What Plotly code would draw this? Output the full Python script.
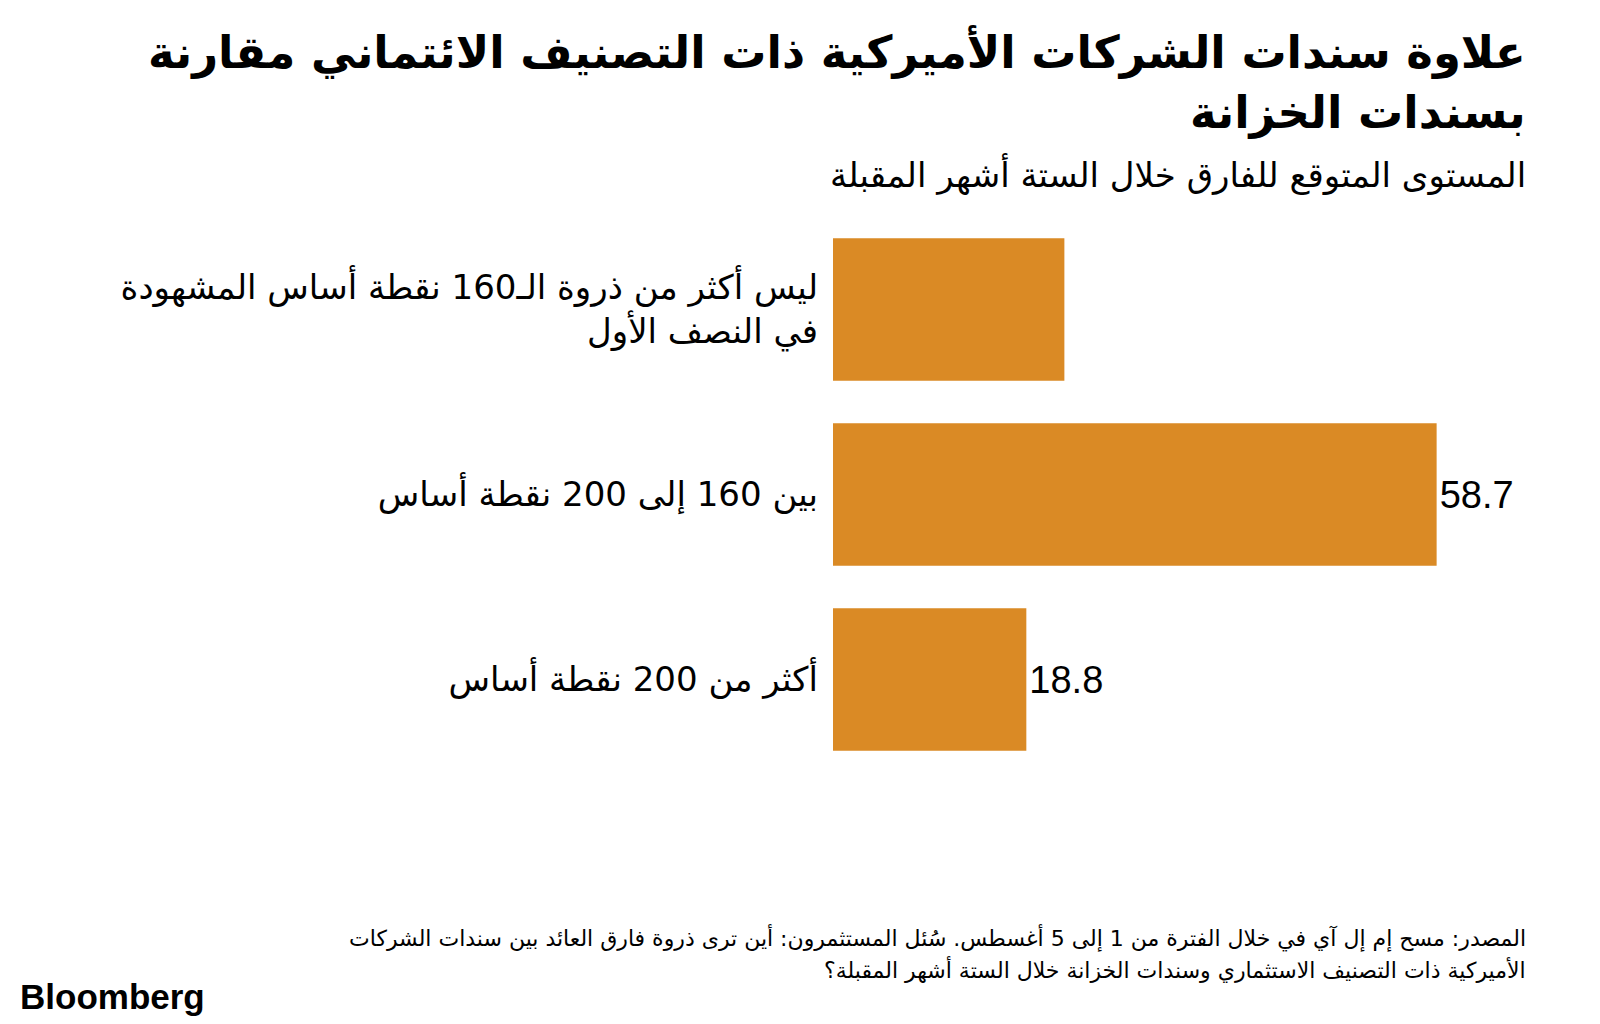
import plotly.graph_objects as go

categories = [
    "ليس أكثر من ذروة الـ160 نقطة أساس المشهودة<br>في النصف الأول",
    "بين 160 إلى 200 نقطة أساس",
    "أكثر من 200 نقطة أساس",
]
values = [22.5, 58.7, 18.8]
value_labels = ["", "58.7", "18.8"]

title_lines = ["علاوة سندات الشركات الأميركية ذات التصنيف الائتماني مقارنة", "بسندات الخزانة"]
subtitle = "المستوى المتوقع للفارق خلال الستة أشهر المقبلة"
source_lines = [
    "المصدر: مسح إم إل آي في خلال الفترة من 1 إلى 5 أغسطس. سُئل المستثمرون: أين ترى ذروة فارق العائد بين سندات الشركات",
    "الأميركية ذات التصنيف الاستثماري وسندات الخزانة خلال الستة أشهر المقبلة؟",
]

W, H = 1600, 1024
L, R, T, B = 833, 150, 217, 252
PW, PH = W - L - R, H - T - B

def px(x):
    return (x - L) / PW

def py(y):
    return 1 - (y - T) / PH

ARABIC = "DejaVu Sans"

fig = go.Figure(go.Bar(
    x=values, y=categories, orientation="h",
    marker=dict(color="#DA8A25", line=dict(width=0)),
    width=0.77,
    text=value_labels, textposition="outside",
    textfont=dict(family="Liberation Sans, Arial", size=38, color="#000000"),
    cliponaxis=False,
    hoverinfo="skip",
))

fig.update_layout(
    width=W, height=H,
    margin=dict(l=L, r=R, t=T, b=B),
    paper_bgcolor="white", plot_bgcolor="white",
    showlegend=False,
    xaxis=dict(range=[0, 60], visible=False, fixedrange=True),
    yaxis=dict(autorange="reversed", showgrid=False, zeroline=False, showline=False,
               ticks="", ticklabelstandoff=14,
               tickfont=dict(family=ARABIC, size=34, color="#000000")),
)

ann = []
ann.append(dict(text=title_lines[0], x=px(1528), y=py(52), xref="paper", yref="paper",
                xanchor="right", yanchor="middle", showarrow=False,
                font=dict(family=ARABIC, size=45, color="#000000", weight="bold")))
ann.append(dict(text=title_lines[1], x=px(1528), y=py(113), xref="paper", yref="paper",
                xanchor="right", yanchor="middle", showarrow=False,
                font=dict(family=ARABIC, size=45, color="#000000", weight="bold")))
ann.append(dict(text=subtitle, x=px(1528), y=py(175), xref="paper", yref="paper",
                xanchor="right", yanchor="middle", showarrow=False,
                font=dict(family=ARABIC, size=34, color="#000000")))
ann.append(dict(text=source_lines[0], x=px(1528), y=py(938), xref="paper", yref="paper",
                xanchor="right", yanchor="middle", showarrow=False,
                font=dict(family=ARABIC, size=22, color="#000000")))
ann.append(dict(text=source_lines[1], x=px(1528), y=py(969), xref="paper", yref="paper",
                xanchor="right", yanchor="middle", showarrow=False,
                font=dict(family=ARABIC, size=22, color="#000000")))
ann.append(dict(text="Bloomberg", x=px(18), y=py(996), xref="paper", yref="paper",
                xanchor="left", yanchor="middle", showarrow=False,
                font=dict(family="Liberation Sans, Arial", size=35, color="#000000", weight="bold")))
fig.update_layout(annotations=ann)

fig.write_html("out.html")
